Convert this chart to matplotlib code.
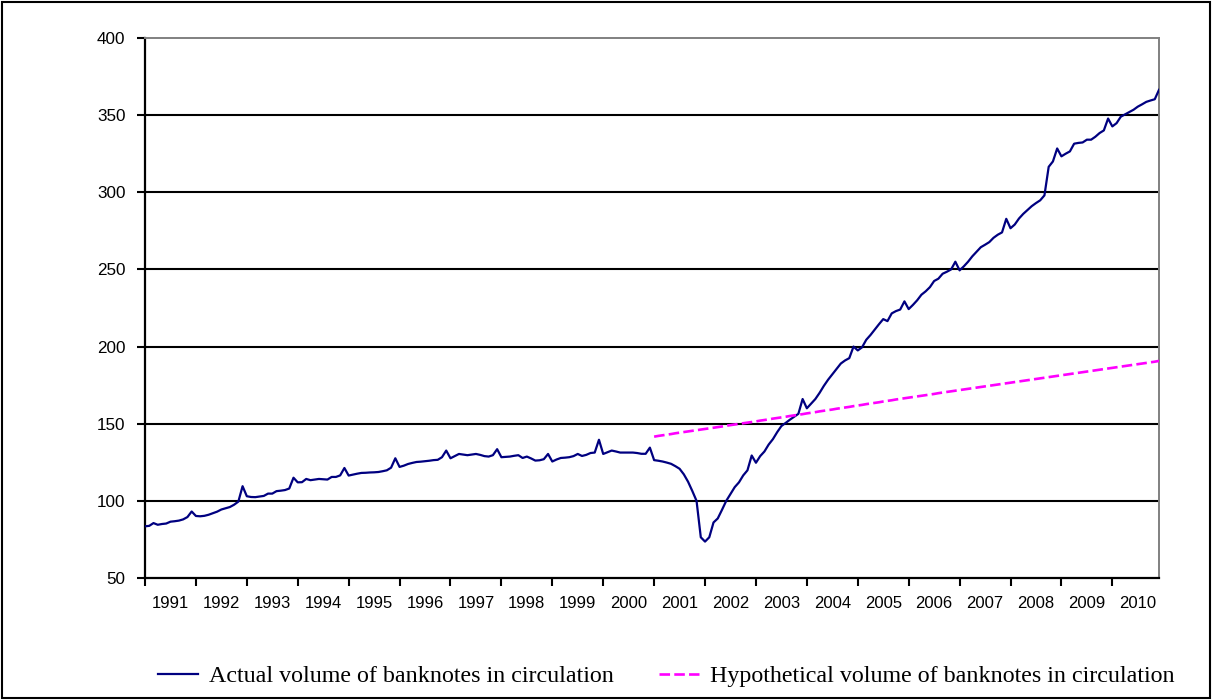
import matplotlib
matplotlib.use("Agg")
import matplotlib.pyplot as plt
from matplotlib.lines import Line2D
from matplotlib.patches import Rectangle


years = [str(y) for y in range(1991, 2011)]

# actual volume, monthly, Jan 1991 - Dec 2010 (one row per year)
actual = [
    83.5, 83.8, 85.6, 84.5, 85.0, 85.3, 86.5, 86.8, 87.2, 88.0, 89.5, 93.1,
    90.2, 90.0, 90.3, 91.0, 92.0, 93.0, 94.4, 95.2, 96.0, 97.5, 99.5, 109.5,
    103.0, 102.5, 102.4, 102.8, 103.2, 104.7, 104.7, 106.3, 106.6, 107.0, 108.0, 115.0,
    112.0, 112.1, 114.2, 113.4, 113.8, 114.2, 114.0, 113.8, 115.5, 115.5, 116.5, 121.3,
    116.4, 117.0, 117.6, 118.1, 118.2, 118.4, 118.5, 118.7, 119.2, 119.8, 121.5, 127.6,
    122.0, 122.8, 123.9, 124.6, 125.2, 125.4, 125.7, 126.0, 126.4, 126.6, 128.3, 132.6,
    127.6, 129.0, 130.4, 130.0, 129.6, 130.0, 130.4, 129.8, 129.0, 128.7, 129.6, 133.5,
    128.3, 128.5, 128.7, 129.2, 129.6, 127.8, 128.7, 127.5, 126.1, 126.3, 127.0, 130.4,
    125.5, 126.8, 127.8, 128.0, 128.3, 129.0, 130.4, 129.1, 129.8, 131.0, 131.3, 139.6,
    130.4, 131.5, 132.6, 132.0, 131.3, 131.3, 131.3, 131.3, 131.0, 130.5, 130.5, 134.5,
    126.4, 126.0, 125.5, 124.8, 124.0, 122.5, 120.8, 117.2, 112.4, 106.4, 100.0, 76.4,
    73.6, 76.4, 86.0, 88.6, 94.2, 100.0, 104.5, 108.9, 112.0, 116.5, 119.8, 129.4,
    124.7, 129.0, 132.0, 136.5, 140.0, 144.5, 148.5, 150.5, 152.6, 154.5, 156.4, 166.0,
    160.0, 163.0, 166.0, 170.0, 174.5, 178.5, 182.0, 185.5, 189.0, 191.0, 192.5, 200.0,
    197.5, 199.5, 204.4, 207.5, 211.0, 214.5, 217.8, 216.5, 221.5, 223.0, 224.0, 229.3,
    224.3, 227.0, 230.0, 233.6, 235.8, 238.5, 242.5, 244.0, 247.2, 248.5, 250.0, 255.0,
    249.4, 252.0, 255.0, 258.5, 261.5, 264.4, 266.0, 267.7, 270.5, 272.5, 274.0, 282.8,
    276.7, 279.1, 283.0, 286.0, 288.5, 291.0, 293.0, 294.8, 298.0, 316.5, 320.0, 328.4,
    323.3, 325.0, 326.5, 331.5, 332.0, 332.3, 334.1, 334.1, 336.0, 338.4, 340.1, 347.8,
    342.7, 344.8, 349.0, 350.5, 352.0, 353.5, 355.5, 357.0, 358.6, 359.5, 360.3, 366.4,
]

# hypothetical volume, monthly, Jan 2001 - Dec 2010
hypothetical = [
    141.6, 142.1, 142.5, 142.9, 143.3, 143.8, 144.2, 144.6, 145.0, 145.4, 145.8, 146.2,
    146.6, 147.0, 147.4, 147.8, 148.2, 148.7, 149.1, 149.5, 149.9, 150.3, 150.7, 151.1,
    151.5, 152.0, 152.4, 152.8, 153.3, 153.7, 154.1, 154.5, 155.0, 155.4, 155.8, 156.2,
    156.7, 157.1, 157.5, 158.0, 158.4, 158.8, 159.2, 159.7, 160.1, 160.5, 160.9, 161.4,
    161.8, 162.2, 162.7, 163.1, 163.5, 163.9, 164.4, 164.8, 165.2, 165.7, 166.1, 166.5,
    166.9, 167.3, 167.7, 168.1, 168.5, 168.9, 169.3, 169.8, 170.2, 170.6, 171.0, 171.4,
    171.8, 172.2, 172.6, 173.0, 173.4, 173.8, 174.2, 174.6, 175.0, 175.4, 175.8, 176.2,
    176.6, 177.0, 177.4, 177.8, 178.2, 178.6, 179.0, 179.4, 179.8, 180.2, 180.6, 181.0,
    181.4, 181.8, 182.2, 182.6, 183.0, 183.4, 183.8, 184.2, 184.6, 185.0, 185.4, 185.8,
    186.2, 186.6, 187.0, 187.4, 187.8, 188.2, 188.6, 189.0, 189.4, 189.8, 190.2, 190.7,
]

months = list(range(len(actual)))
hyp_months = list(range(len(actual) - len(hypothetical), len(actual)))

fig = plt.figure(figsize=(12.12, 7.0), dpi=100)
ax = fig.add_axes([145 / 1212, 1 - 578 / 700, (1159 - 145) / 1212, (578 - 38) / 700])

ax.plot(months, actual, color="#000080", lw=1.6, zorder=3)
ax.plot(hyp_months, hypothetical, color="#FF00FF", lw=1.9, dashes=(4, 1.6), zorder=3)

ax.set_xlim(0, len(actual) - 1)
ax.set_ylim(50, 400)
ax.set_yticks(range(50, 401, 50))
ax.set_xticks(range(0, len(actual), 12))
ax.set_xticks([12 * i + 6 for i in range(len(years))], minor=True)
ax.set_xticklabels([])
ax.set_xticklabels(years, minor=True)

for y in range(100, 400, 50):
    ax.axhline(y, color="black", lw=1.5, zorder=1)

ax.tick_params(axis="y", direction="out", length=6, width=1.5, pad=8, labelsize=12.3)
ax.tick_params(axis="x", which="major", direction="out", length=6, width=1.5)
ax.tick_params(axis="x", which="minor", length=0, pad=13, labelsize=12)
for lab in ax.get_yticklabels() + ax.get_xticklabels(minor=True):
    lab.set_family("Liberation Sans")

ax.spines["left"].set_linewidth(1.6)
ax.spines["bottom"].set_linewidth(1.6)
ax.spines["top"].set_color("#808080")
ax.spines["right"].set_color("#808080")
ax.spines["top"].set_linewidth(1.4)
ax.spines["right"].set_linewidth(1.4)

handles = [
    Line2D([], [], color="#000080", lw=1.6),
    Line2D([], [], color="#FF00FF", lw=1.9, dashes=(4, 1.6)),
]
fig.legend(handles, ["Actual volume of banknotes in circulation",
                     "Hypothetical volume of banknotes in circulation"],
           loc="center", bbox_to_anchor=(666 / 1212, 1 - 676 / 700), ncol=2,
           frameon=False, prop={"family": "Liberation Serif", "size": 17.3},
           handlelength=1.67, handletextpad=0.46, columnspacing=1.87)

fig.patches.append(Rectangle((0.002, 0.003), 0.996, 0.994, transform=fig.transFigure,
                             fill=False, ec="black", lw=1.5))

fig.savefig("out.png", dpi=100)
